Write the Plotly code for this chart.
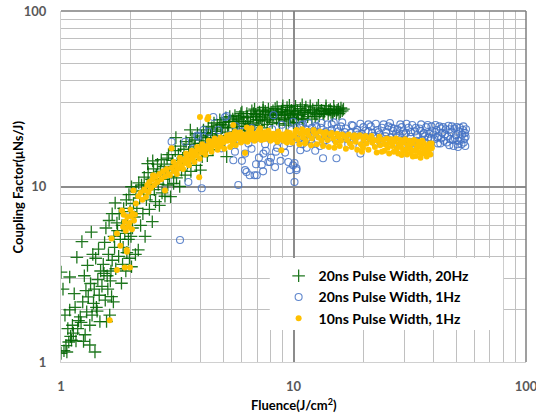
import plotly.graph_objects as go

# ---------------- data ----------------
series_names = ["20ns Pulse Width, 20Hz", "20ns Pulse Width, 1Hz", "10ns Pulse Width, 1Hz"]

green_pts = [
    (1.00, 1.12), (1.03, 1.16), (1.06, 1.14), (1.05, 1.24), (1.08, 1.30), (1.11, 1.33), (1.13, 1.46),
    (1.16, 1.32), (1.10, 1.40), (1.04, 1.85), (1.09, 1.98), (1.00, 3.25), (1.09, 3.05), (1.17, 3.95),
    (1.14, 2.45), (1.18, 1.55), (1.19, 1.72), (1.07, 1.55), (1.12, 1.62), (1.15, 2.05), (1.02, 2.60),
    (1.21, 1.81), (1.25, 1.31), (1.27, 1.43), (1.29, 1.93), (1.33, 1.25), (1.33, 1.62), (1.38, 2.16),
    (1.40, 1.14), (1.23, 4.85), (1.35, 5.50), (1.24, 2.20), (1.28, 2.55), (1.31, 2.35), (1.34, 2.80),
    (1.36, 1.85), (1.39, 2.60), (1.42, 2.05), (1.44, 2.95), (1.46, 2.40), (1.48, 3.30), (1.30, 3.55),
    (1.26, 3.10), (1.41, 3.90), (1.45, 4.40), (1.37, 4.10), (1.22, 1.68), (1.47, 1.70), (1.43, 1.95),
    (1.50, 2.70), (1.52, 3.60), (1.55, 2.25), (1.57, 1.70), (1.54, 4.80), (1.58, 3.10), (1.60, 4.10),
    (1.62, 1.85), (1.63, 2.90), (1.65, 2.36), (1.66, 3.80), (1.68, 2.20), (1.69, 5.20), (1.70, 4.50),
    (1.72, 3.40), (1.74, 6.20), (1.75, 5.60), (1.71, 8.06), (1.77, 4.00), (1.78, 7.00), (1.80, 5.00),
    (1.56, 5.80), (1.61, 6.40), (1.66, 7.00), (1.53, 3.20), (1.59, 2.60), (1.64, 3.30),
    (1.82, 2.81), (1.83, 6.00), (1.85, 4.50), (1.86, 7.50), (1.88, 5.40), (1.90, 3.30), (1.91, 8.40),
    (1.93, 6.30), (1.95, 5.00), (1.96, 9.00), (1.98, 7.20), (2.01, 3.49), (2.01, 9.97), (2.03, 5.80),
    (2.05, 8.00), (2.07, 6.70), (2.09, 4.10), (2.10, 9.40), (2.12, 7.50), (2.15, 4.35), (2.16, 10.5),
    (2.18, 8.60), (2.20, 6.00), (2.22, 10.2), (1.84, 3.60), (1.92, 4.20), (2.00, 5.20), (1.97, 3.90),
    (2.25, 7.00), (2.27, 9.50), (2.28, 11.3), (2.30, 5.20), (2.33, 8.40), (2.35, 10.2), (2.37, 12.0),
    (2.40, 7.40), (2.42, 9.00), (2.45, 11.0), (2.47, 6.30), (2.50, 12.6), (2.52, 9.60), (2.55, 8.20),
    (2.57, 11.6), (2.60, 13.4), (2.62, 10.3), (2.65, 7.80), (2.68, 12.2), (2.70, 14.2), (2.72, 9.20),
    (2.75, 11.0), (2.78, 13.0), (2.80, 8.80), (2.83, 12.0), (2.86, 14.5), (2.88, 10.2), (2.90, 15.2),
    (2.93, 11.4), (2.96, 8.75), (2.98, 13.4), (2.36, 13.5), (2.48, 14.0),
    (3.02, 14.1), (3.05, 10.4), (3.08, 12.5), (3.10, 16.0), (3.14, 11.2), (3.17, 13.6), (3.20, 15.2),
    (3.24, 10.0), (3.27, 17.0), (3.30, 12.4), (3.34, 14.5), (3.38, 16.3), (3.42, 11.6), (3.45, 18.0),
    (3.50, 13.6), (3.54, 15.6), (3.58, 17.4), (3.62, 12.2), (3.66, 19.0), (3.70, 14.6), (3.74, 16.8),
    (3.78, 18.4), (3.82, 13.2), (3.86, 20.0), (3.90, 15.8), (3.94, 17.6), (3.98, 12.4), (3.12, 19.0),
    (3.60, 21.0),
    (4.02, 19.4), (4.05, 14.8), (4.10, 21.0), (4.14, 16.4), (4.18, 18.2), (4.22, 20.3), (4.26, 15.0),
    (4.30, 22.0), (4.35, 17.4), (4.40, 19.6), (4.45, 21.6), (4.50, 16.2), (4.55, 23.0), (4.60, 18.6),
    (4.65, 20.6), (4.70, 22.4), (4.76, 17.4), (4.82, 24.0), (4.88, 19.4), (4.94, 21.6), (5.00, 23.2),
    (5.06, 18.0), (5.12, 24.6), (5.16, 14.8), (5.20, 20.4), (5.26, 22.4), (5.32, 25.0), (5.40, 19.0),
    (5.46, 21.6), (5.52, 23.6), (5.60, 25.4), (5.66, 18.6), (5.72, 22.0), (5.80, 24.2), (5.86, 20.8),
    (5.94, 26.0), (6.00, 22.8),
    (6.08, 24.6), (6.15, 19.6), (6.22, 22.0), (6.30, 26.0), (6.38, 23.4), (6.46, 21.2), (6.55, 25.2),
    (6.62, 27.0), (6.70, 23.0), (6.80, 20.6), (6.88, 25.8), (6.96, 24.0), (7.05, 22.2), (7.14, 26.6),
    (7.22, 24.6), (7.32, 21.6), (7.40, 27.2), (7.50, 23.6), (7.60, 25.8), (7.70, 22.6), (7.80, 27.6),
    (7.90, 24.6), (8.00, 26.4), (8.10, 23.2), (8.22, 25.4), (8.34, 27.8), (8.46, 24.2), (8.58, 26.4),
    (8.70, 22.8), (8.84, 25.6), (8.96, 27.4), (9.10, 24.0), (9.24, 26.2), (9.38, 28.2), (9.52, 23.6),
    (9.66, 25.8), (9.80, 27.2), (9.94, 24.8),
    (10.1, 26.6), (10.3, 23.2), (10.5, 25.4), (10.7, 27.8), (10.9, 24.4), (11.1, 26.4), (11.3, 28.4),
    (11.5, 25.0), (11.8, 27.0), (12.0, 24.2), (12.3, 26.2), (12.6, 28.0), (12.9, 25.2), (13.2, 27.2),
    (13.5, 25.8), (13.8, 27.8), (14.1, 26.0), (14.4, 27.4), (14.7, 25.6), (15.0, 27.0), (15.3, 26.2),
    (15.6, 27.6), (15.9, 26.6), (16.2, 27.0),
    (4.08, 17.6), (4.28, 19.0), (4.48, 20.0), (4.68, 21.0), (4.88, 22.6), (5.08, 21.8), (5.28, 23.4),
    (5.48, 24.2), (5.68, 23.4), (5.88, 25.0), (6.12, 23.6), (6.32, 24.8), (6.52, 22.6), (6.72, 26.0),
    (6.92, 25.0), (7.12, 23.8), (7.36, 25.2), (7.56, 26.8), (7.76, 24.0), (7.96, 25.6), (8.16, 27.0),
    (8.40, 25.8), (8.64, 24.6), (8.90, 26.8), (9.16, 25.4), (9.42, 26.6), (9.70, 24.4), (9.98, 26.0),
    (10.4, 27.0), (10.8, 25.8), (11.2, 27.2), (11.6, 26.4), (12.1, 27.4), (12.6, 25.8), (13.0, 26.6),
    (13.6, 26.8), (14.2, 27.2), (14.8, 26.4), (15.4, 27.2),
    (8.50, 28.4), (9.00, 28.8), (9.60, 29.0), (10.2, 28.6), (10.9, 29.2), (11.8, 28.8), (12.8, 29.0),
    (13.8, 28.8), (14.9, 28.6), (16.0, 28.0), (6.00, 26.6), (6.80, 27.6), (7.40, 28.2), (16.4, 27.6),
    (12.4, 25.0), (13.4, 26.0), (14.5, 26.4), (15.7, 26.0), (11.0, 24.0), (10.0, 23.0), (9.30, 22.4),
]

blue_pts = [
    (2.99, 18.0), (3.25, 4.96), (3.42, 18.0), (3.53, 10.6), (3.70, 16.5), (3.85, 19.5), (4.03, 9.77),
    (4.15, 17.0), (4.10, 21.0), (3.90, 19.2), (4.30, 20.5), (4.52, 24.9), (4.60, 18.5), (4.75, 21.0),
    (4.90, 16.5), (5.08, 24.9), (5.16, 25.2), (5.30, 19.6), (5.51, 14.1), (5.65, 22.0), (5.79, 10.2),
    (5.90, 18.2), (6.05, 20.6), (6.19, 12.4), (6.19, 15.4), (6.28, 12.1), (6.40, 17.6), (6.48, 11.6),
    (6.60, 21.5), (6.80, 11.6), (6.95, 11.6), (7.00, 19.0), (7.30, 13.3), (7.42, 15.4), (7.55, 17.4),
    (7.80, 13.8), (7.92, 13.8), (8.10, 21.2), (8.20, 25.5), (8.33, 12.9), (8.50, 16.6), (8.70, 18.8),
    (8.90, 22.5), (9.10, 17.0), (9.30, 19.6), (9.65, 12.4), (9.65, 17.7), (9.80, 21.0), (9.96, 13.2),
    (9.96, 23.4), (10.1, 10.6), (10.3, 12.4), (10.1, 13.6), (10.2, 18.6), (10.3, 12.7), (10.7, 16.1),
    (10.7, 21.6), (10.9, 17.4), (11.4, 16.6), (12.4, 16.0), (13.0, 17.0), (13.4, 14.5),
    (6.60, 16.4), (7.10, 14.6), (7.60, 16.0), (8.00, 14.6), (8.40, 15.8), (8.80, 14.0), (9.20, 15.6),
    (9.50, 13.8), (6.90, 13.4), (7.40, 12.2), (5.60, 15.8), (6.00, 14.0),
    (10.5, 20.4), (10.8, 22.4), (11.0, 19.2), (11.3, 21.2), (11.6, 23.0), (11.9, 18.6), (12.2, 20.8),
    (12.5, 22.2), (12.8, 19.6), (13.1, 21.6), (13.4, 17.8), (13.7, 20.4), (14.0, 22.6), (14.3, 19.0),
    (14.6, 21.0), (14.9, 23.2), (15.3, 14.5), (15.2, 18.4), (15.6, 20.6), (16.0, 22.0), (16.4, 19.4),
    (16.8, 21.4), (17.2, 17.4), (17.6, 20.2), (18.0, 22.2), (18.4, 19.0), (18.8, 21.0), (19.2, 16.8),
    (19.4, 15.4), (19.6, 20.0), (20.0, 21.8), (20.5, 18.6), (21.0, 20.6), (21.5, 22.0), (22.0, 19.4),
    (22.5, 17.6), (23.0, 21.0), (23.5, 19.8), (24.0, 21.6), (24.5, 18.2), (25.0, 20.4), (25.6, 22.0),
    (26.2, 19.0), (26.8, 20.8), (27.4, 17.8), (28.0, 21.2), (28.6, 19.6), (29.2, 21.8), (29.8, 18.4),
    (30.5, 20.2), (31.2, 21.6), (31.9, 19.2), (32.6, 17.6), (33.3, 20.6), (34.0, 19.6), (34.8, 21.4),
    (35.6, 18.4), (36.4, 20.2), (37.2, 21.8), (38.0, 19.0), (38.8, 17.4), (39.6, 20.6), (40.4, 18.6),
    (41.2, 21.0), (42.0, 19.4), (42.8, 17.6), (43.6, 20.2), (44.4, 18.2), (45.2, 21.2), (46.0, 19.2),
    (46.8, 17.2), (47.6, 20.4), (48.4, 18.4), (49.2, 21.4), (50.0, 19.6), (50.8, 17.4), (51.6, 20.6),
    (52.4, 18.6), (53.2, 19.8), (54.0, 17.8), (54.6, 20.2), (53.5, 21.0), (51.0, 16.8), (49.5, 18.8),
    (47.0, 21.2), (44.8, 19.8), (43.0, 21.4), (41.6, 19.0), (39.0, 18.8), (36.8, 19.4), (35.2, 20.8),
    (33.8, 18.2), (32.0, 20.4), (30.0, 19.8), (27.6, 20.0), (26.4, 21.6), (24.8, 19.4), (23.2, 20.4),
    (21.4, 19.0), (20.4, 20.8), (19.0, 19.8), (17.8, 18.8), (16.6, 20.4), (15.8, 19.2), (14.4, 20.0),
    (13.2, 19.4), (12.0, 21.6), (11.2, 20.2),
    (10.6, 18.8), (11.0, 22.6), (11.5, 19.8), (12.0, 17.6), (12.6, 21.8), (13.2, 23.0), (13.8, 18.4),
    (14.6, 22.6), (15.4, 21.4), (16.2, 23.2), (17.0, 18.6), (17.8, 22.4), (18.6, 20.4), (19.4, 22.8),
    (20.2, 17.8), (21.0, 22.6), (21.8, 20.2), (22.6, 22.8), (23.6, 18.0), (24.4, 22.6), (25.4, 18.6),
    (26.0, 23.0), (27.0, 21.4), (27.8, 19.0), (28.8, 22.6), (29.6, 20.6), (30.6, 22.8), (31.6, 18.0),
    (32.4, 22.4), (33.6, 21.6), (34.4, 17.4), (35.4, 22.6), (36.0, 19.8), (37.0, 17.8), (37.8, 22.4),
    (38.4, 20.0), (39.2, 22.0), (40.0, 19.8), (40.8, 22.4), (41.8, 17.6), (42.4, 22.0), (43.2, 18.8),
    (44.0, 21.8), (45.6, 17.8), (46.4, 22.2), (47.2, 18.6), (48.0, 22.0), (48.8, 17.0), (50.4, 21.8),
    (51.2, 18.2), (52.0, 21.6), (52.8, 17.4), (53.8, 22.0), (54.4, 18.8), (55.0, 19.2), (54.8, 17.0),
    (55.2, 21.2),
]

yellow_pts = [
    (1.62, 1.73), (1.65, 5.06), (1.74, 5.40), (1.74, 3.34), (1.88, 3.46), (1.98, 3.46), (1.92, 4.35),
    (1.92, 4.25), (1.80, 4.60), (1.85, 5.90), (1.88, 6.30), (1.90, 5.60), (1.93, 6.70), (1.95, 5.90),
    (1.97, 6.20), (2.00, 6.80), (2.02, 5.70), (2.04, 7.00), (2.06, 6.40), (2.08, 6.90), (1.99, 7.40),
    (1.86, 6.90), (1.83, 7.30), (2.05, 9.50), (2.10, 8.00), (2.15, 8.80), (2.20, 9.20), (2.24, 8.40),
    (2.28, 9.60), (2.30, 9.50), (2.32, 8.70), (2.35, 10.2), (2.38, 9.30), (2.40, 10.6), (2.44, 9.80),
    (2.48, 11.0), (2.49, 11.6), (2.52, 10.2), (2.56, 11.4), (2.60, 10.6), (2.65, 11.8), (2.70, 11.0),
    (2.75, 12.2), (2.80, 9.50), (2.80, 11.4), (2.85, 12.6), (2.90, 11.8), (2.94, 11.6), (2.99, 16.5),
    (3.00, 12.8), (3.06, 12.2), (3.12, 13.2), (3.18, 12.6), (3.24, 13.8), (3.30, 13.0), (3.36, 14.2),
    (3.42, 13.6), (3.48, 14.8), (3.54, 14.0), (3.60, 15.2), (3.66, 14.4), (3.71, 14.8), (3.78, 15.8),
    (3.84, 15.0), (3.90, 16.2), (3.96, 24.9), (3.93, 11.3), (4.02, 15.6), (4.08, 16.6), (4.15, 16.0),
    (4.22, 17.0), (4.30, 24.9), (4.26, 24.2), (4.30, 16.4), (4.38, 17.4), (4.46, 16.8), (4.54, 17.8),
    (4.62, 17.2), (4.70, 18.2), (4.78, 17.6), (4.83, 18.4), (4.92, 18.6), (5.00, 17.8), (5.10, 18.8),
    (5.20, 18.2), (5.30, 19.0), (5.40, 18.4), (5.51, 22.4), (5.50, 19.2), (5.60, 20.5), (5.60, 18.6),
    (5.72, 19.4), (5.84, 18.8), (5.96, 19.6), (6.08, 19.0), (6.19, 15.5), (6.20, 19.8), (6.28, 19.2),
    (6.30, 21.7), (6.40, 20.0), (6.52, 19.4), (6.60, 21.5), (6.64, 20.2), (6.76, 19.6), (6.90, 20.0),
    (7.04, 19.2), (7.18, 21.5), (7.20, 20.2), (7.36, 19.4), (7.52, 20.4), (7.68, 19.6), (7.84, 20.2),
    (8.00, 19.4), (8.18, 20.0), (8.36, 19.2), (8.49, 19.6), (8.70, 20.0), (8.87, 16.1), (8.90, 19.0),
    (9.10, 19.8), (9.30, 18.8), (9.50, 19.6), (9.70, 18.6), (9.90, 19.4),
    (4.40, 18.0), (4.86, 19.0), (5.36, 19.8), (5.90, 20.4), (6.46, 20.6), (7.10, 20.8), (7.80, 20.8),
    (8.60, 20.6), (9.40, 20.4), (10.2, 20.6), (11.2, 20.4), (12.2, 20.6), (13.4, 20.2), (14.6, 20.0),
    (10.1, 19.6), (10.4, 18.6), (10.7, 20.0), (11.0, 19.0), (11.3, 18.2), (11.6, 19.6), (12.0, 18.8),
    (12.4, 20.0), (12.8, 19.0), (13.2, 18.2), (13.6, 19.4), (14.0, 18.4), (14.4, 19.8), (14.8, 18.8),
    (15.2, 17.8), (15.6, 19.2), (16.0, 18.2), (16.5, 19.4), (17.0, 18.4), (17.5, 17.6), (18.0, 19.0),
    (18.5, 18.0), (19.0, 19.2), (19.7, 15.8), (19.5, 17.4), (20.0, 18.6), (20.6, 17.6), (21.2, 18.8),
    (21.8, 17.8), (22.4, 16.8), (23.0, 18.2), (23.6, 17.2), (24.0, 15.8), (24.2, 18.4), (24.8, 17.4),
    (25.4, 16.6), (26.0, 17.8), (26.6, 17.0), (27.2, 18.0), (27.8, 16.4), (28.4, 17.4), (29.2, 15.1),
    (29.0, 16.8), (29.8, 17.8), (30.4, 16.2), (31.0, 17.2), (31.8, 16.4), (32.6, 14.8), (32.4, 17.6),
    (33.2, 16.0), (34.0, 17.0), (34.8, 15.6), (35.6, 16.6), (36.4, 17.6), (37.0, 15.8), (37.6, 16.8),
    (38.0, 15.8), (38.6, 17.6), (39.3, 17.6), (39.0, 16.4), (36.0, 15.4), (34.4, 18.0), (33.6, 14.9),
    (3.05, 13.8), (3.15, 11.8), (3.25, 14.6), (3.35, 12.6), (3.45, 15.4), (3.55, 13.2), (3.65, 16.0),
    (3.75, 13.8), (3.85, 16.8), (3.95, 14.4), (4.05, 17.4), (4.18, 15.2), (4.32, 18.2), (4.44, 15.8),
    (4.58, 18.8), (4.72, 16.2), (4.86, 17.0), (5.04, 16.4), (5.18, 19.6), (5.34, 16.8), (5.48, 17.6),
    (5.64, 17.2), (5.78, 20.2), (5.94, 17.8), (6.12, 18.2), (6.34, 18.0), (6.56, 18.6), (6.80, 18.2),
    (7.00, 18.8), (7.26, 18.4), (7.46, 18.6), (7.72, 18.8), (7.96, 18.2), (8.24, 18.6), (8.52, 18.0),
    (8.80, 18.6), (9.06, 18.2), (9.36, 17.8), (9.64, 20.2), (9.86, 17.8),
    (10.3, 21.0), (10.6, 17.4), (10.9, 21.2), (11.2, 17.6), (11.5, 20.8), (11.9, 17.2), (12.2, 21.0),
    (12.6, 17.4), (13.0, 20.6), (13.4, 17.0), (13.8, 20.4), (14.2, 16.8), (14.6, 20.2), (15.0, 16.6),
    (15.4, 20.0), (15.8, 17.0), (16.2, 19.8), (16.8, 16.4), (17.3, 19.8), (17.8, 16.8), (18.3, 19.6),
    (18.8, 16.2), (19.3, 19.6), (19.9, 16.6), (20.4, 19.4), (21.0, 16.2), (21.6, 19.4), (22.2, 18.4),
    (22.8, 15.6), (23.4, 19.2), (24.6, 16.0), (25.2, 18.8), (25.8, 15.4), (26.4, 18.6), (27.0, 15.8),
    (27.6, 18.8), (28.2, 15.4), (28.8, 18.4), (29.6, 16.0), (30.2, 18.6), (30.8, 15.2), (31.4, 18.2),
    (32.0, 15.6), (33.0, 18.4), (33.8, 16.4), (34.6, 17.2), (35.2, 14.6), (35.8, 18.2), (36.6, 16.2),
    (37.4, 14.8), (38.2, 16.6), (38.8, 15.2), (39.4, 16.6),
]

x_tick_vals = [1, 10, 100]
x_tick_text = ["1", "10", "100"]
y_tick_vals = [1, 10, 100]
y_tick_text = ["1", "10", "100"]
x_title = "Fluence(J/cm<sup>2</sup>)"
y_title = "Coupling Factor(μNs/J)"

# ---------------- figure ----------------
FONT = "Lato"
fig = go.Figure()

fig.add_trace(go.Scatter(
    x=[p[0] for p in green_pts], y=[p[1] for p in green_pts], mode="markers", name=series_names[0],
    marker=dict(symbol="cross-thin", size=9, color="rgba(0,100,0,0.88)",
                line=dict(width=1.3, color="rgba(0,100,0,0.88)")),
))
fig.add_trace(go.Scatter(
    x=[p[0] for p in blue_pts], y=[p[1] for p in blue_pts], mode="markers", name=series_names[1],
    marker=dict(symbol="circle-open", size=7, color="rgba(68,114,196,0.85)",
                line=dict(width=1.1, color="rgba(68,114,196,0.85)")),
))
fig.add_trace(go.Scatter(
    x=[p[0] for p in yellow_pts], y=[p[1] for p in yellow_pts], mode="markers", name=series_names[2],
    marker=dict(symbol="circle", size=6, color="#FFC000", line=dict(width=0)),
))

axis_common = dict(
    type="log", automargin=False, ticklabeloverflow="allow",
    showgrid=True, gridcolor="#8c8c8c", gridwidth=1.5,
    minor=dict(dtick="D1", showgrid=True, gridcolor="#c0c0c0", gridwidth=1, ticks=""),
    showline=True, linecolor="#d0d0d0", linewidth=1, mirror=False,
    zeroline=False, ticks="",
    tickfont=dict(family=FONT, size=13, color="#595959", weight="bold"),
)

fig.update_xaxes(**axis_common, range=[0, 2], tickvals=x_tick_vals, ticktext=x_tick_text,
                 ticklabelstandoff=12)
fig.update_yaxes(**axis_common, range=[0, 2], tickvals=y_tick_vals, ticktext=y_tick_text,
                 ticklabelstandoff=11)

# axis titles
fig.add_annotation(text=x_title, xref="paper", yref="paper", x=0.5, y=-0.1197,
                   xanchor="center", yanchor="middle", showarrow=False,
                   font=dict(family=FONT, size=13, color="#000000", weight="bold"))
fig.add_annotation(text=y_title, xref="paper", yref="paper", x=-0.0925, y=0.5,
                   xanchor="center", yanchor="middle", showarrow=False, textangle=-90,
                   font=dict(family=FONT, size=13, color="#000000", weight="bold"))

# dark top / right frame (major gridlines at 100)
fig.add_shape(type="line", xref="paper", yref="paper", x0=0, x1=1, y0=1, y1=1,
              line=dict(color="#7f7f7f", width=1.5), layer="above")
fig.add_shape(type="line", xref="paper", yref="paper", x0=1, x1=1, y0=0, y1=1,
              line=dict(color="#7f7f7f", width=1.5), layer="above")

# white box behind legend (as in the reference, it covers gridlines)
fig.add_shape(type="rect", xref="paper", yref="paper", x0=0.449, x1=0.951, y0=0.091, y1=0.296,
              fillcolor="white", line=dict(width=0), layer="above")

fig.update_layout(
    width=536, height=414,
    margin=dict(l=61, r=10, t=11, b=52),
    paper_bgcolor="white", plot_bgcolor="white",
    font=dict(family=FONT, size=13, color="#000000"),
    showlegend=True,
    legend=dict(x=0.468, y=0.290, xanchor="left", yanchor="top", bgcolor="rgba(0,0,0,0)",
                font=dict(family=FONT, size=14, color="#000000", weight="bold"),
                itemwidth=30, tracegroupgap=0),
)

# remove the page's default 8px body margin so the figure fills the window exactly
fig.write_html("out.html", config={"displayModeBar": False},
               post_script="document.body.style.margin='0';document.body.style.overflow='hidden';")
